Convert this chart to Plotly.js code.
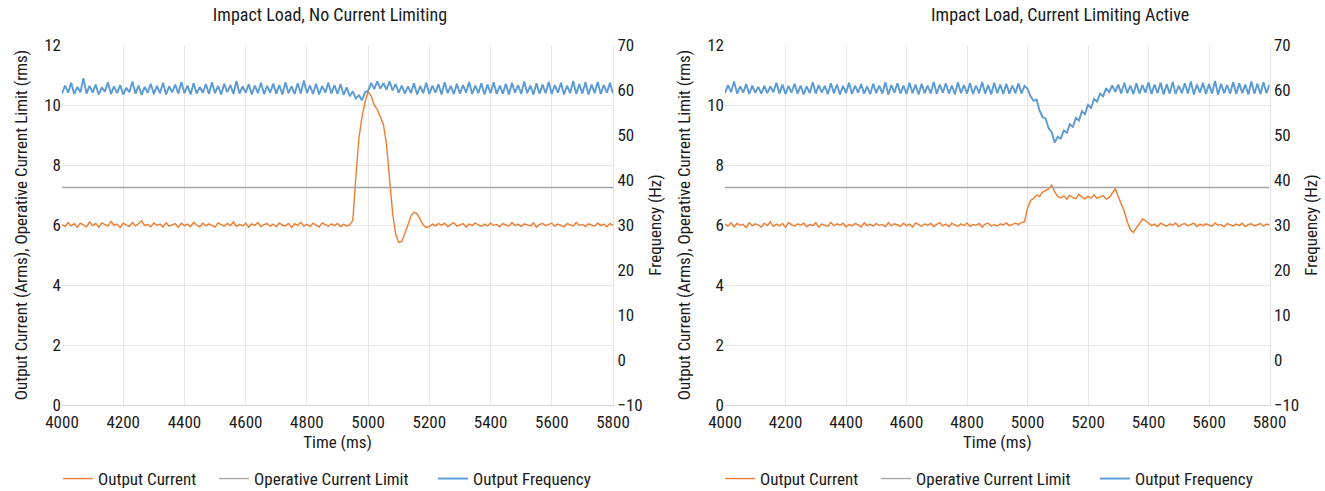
<!DOCTYPE html>
<html>
<head>
<meta charset="utf-8">
<script src="https://cdn.plot.ly/plotly-3.0.1.min.js"></script>
<style>
html,body{margin:0;padding:0;background:#fff;}
#chart{width:1325px;height:491px;}
#chart svg text{font-stretch:condensed !important;}
</style>
</head>
<body>
<div id="chart"></div>
<script>
// ---- Data (sampled every 10 ms from 4000 ms to 5800 ms) ----
const TIME_START = 4000;
const TIME_STEP = 10;
const TIME_RANGE = [4000, 5800];
const limitTimes = [4000, 5800];

const subplotTitles = ["Impact Load, No Current Limiting", "Impact Load, Current Limiting Active"];
const seriesNames = ["Output Current", "Operative Current Limit", "Output Frequency"];

// Left: Impact Load, No Current Limiting
const leftCurrent = [
  6.02,5.95,6.08,5.97,6.04,5.92,6.06,6.00,5.94,6.10,
  5.98,6.05,5.93,6.07,6.01,5.96,6.12,5.99,6.03,5.91,
  6.06,6.00,5.95,6.09,5.97,6.04,6.14,5.98,6.02,5.94,
  6.07,5.99,6.03,5.93,6.08,5.96,6.01,6.05,5.92,6.06,
  5.98,6.03,5.95,6.09,6.00,5.94,6.06,5.97,6.04,5.99,
  5.93,6.07,6.01,5.96,6.05,5.98,6.10,5.95,6.02,5.97,
  6.06,5.93,6.04,5.99,6.08,5.95,6.01,6.05,5.96,6.03,
  5.94,6.07,6.00,5.97,6.05,5.92,6.04,5.99,6.09,5.96,
  6.02,5.95,6.06,5.99,5.93,6.07,6.01,5.96,6.04,5.98,
  6.05,5.94,6.02,5.97,6.00,6.15,7.60,8.90,9.60,10.10,
  10.45,10.30,10.00,9.85,9.60,9.35,8.70,7.60,6.40,5.70,
  5.42,5.45,5.70,6.00,6.30,6.42,6.38,6.20,6.00,5.92,
  5.95,6.03,5.97,6.05,5.99,6.06,5.94,6.02,6.08,5.96,
  6.01,6.05,5.93,6.04,5.98,6.07,6.00,5.95,6.03,5.97,
  6.06,5.99,6.02,5.94,6.05,6.01,5.96,6.08,5.98,6.03,
  5.95,6.04,6.00,5.97,6.07,5.93,6.02,6.05,5.98,6.01,
  6.06,5.96,6.03,5.99,5.94,6.05,6.01,5.97,6.08,5.99,
  6.02,5.95,6.04,6.00,5.96,6.07,5.98,6.03,5.94,6.05,6.00
];
const leftLimit = [7.25, 7.25];
const leftFrequency = [
  59.2,61.0,59.4,61.6,59.1,60.7,59.5,62.6,59.2,60.9,
  59.4,61.2,59.0,60.6,59.6,61.7,59.1,60.8,59.3,61.1,
  59.0,60.5,59.5,61.9,59.2,61.0,58.9,60.7,59.4,61.4,
  59.1,60.9,59.3,61.6,59.0,60.8,59.5,61.2,59.2,61.8,
  59.3,61.0,59.0,61.5,59.2,60.7,59.4,61.3,59.1,61.7,
  59.3,60.9,59.0,61.4,59.5,61.1,59.1,62.0,59.2,60.8,
  59.4,61.3,59.0,61.0,59.3,61.6,59.1,60.9,59.4,61.4,
  59.2,61.1,59.0,61.7,59.3,60.8,59.1,61.5,59.2,62.1,
  59.3,61.0,59.1,61.4,59.0,60.9,59.4,61.6,59.2,61.1,
  59.1,61.3,58.9,60.6,58.6,59.7,58.1,58.8,57.7,59.5,
  59.8,61.6,60.2,61.9,60.3,61.5,60.1,61.9,59.9,61.3,
  59.4,61.0,59.2,60.8,59.3,61.5,59.0,60.9,59.3,61.6,
  59.1,61.0,59.4,61.3,59.0,61.7,59.3,60.9,59.1,61.4,
  59.2,61.1,59.4,61.8,59.1,61.0,59.3,61.5,59.0,61.2,
  59.3,61.7,59.1,61.0,59.2,61.4,59.0,61.6,59.4,61.1,
  59.1,61.9,59.3,61.0,59.0,61.5,59.2,61.2,59.3,61.8,
  59.1,61.1,59.4,61.6,59.0,61.0,59.3,62.0,59.1,61.3,
  59.2,61.7,59.0,61.2,59.3,61.8,59.1,61.1,59.4,61.6,59.2
];

// Right: Impact Load, Current Limiting Active
const rightCurrent = [
  6.03,5.96,6.07,5.94,6.05,5.99,6.02,5.91,6.08,5.97,
  6.04,6.00,5.93,6.06,5.98,6.11,5.95,6.03,5.97,6.05,
  5.92,6.08,6.01,5.96,6.04,5.99,6.06,5.94,6.02,5.98,
  6.07,5.93,6.03,6.00,5.95,6.09,5.97,6.04,5.99,6.06,
  5.94,6.02,5.97,6.05,6.01,5.93,6.07,5.98,6.03,5.96,
  6.05,5.99,6.02,5.94,6.08,5.97,6.04,6.00,5.95,6.06,
  5.98,6.03,5.93,6.07,6.01,5.96,6.04,5.99,6.05,5.95,
  6.02,6.08,5.97,6.03,5.94,6.06,6.00,5.96,6.04,5.98,
  6.07,5.95,6.02,5.99,6.05,5.93,6.03,6.06,5.97,6.01,
  5.96,6.04,6.00,6.07,5.98,6.03,6.06,6.02,6.08,6.10,
  6.55,6.82,6.88,7.00,6.95,7.10,7.15,7.20,7.33,7.10,
  6.95,6.90,6.97,6.86,6.99,6.91,6.88,7.02,6.93,6.87,
  6.96,6.90,7.00,6.89,6.94,6.98,6.86,6.92,7.05,7.22,
  6.95,6.70,6.45,6.10,5.85,5.75,5.90,6.05,6.20,6.15,
  6.05,5.98,6.03,5.95,6.06,6.00,5.96,6.04,5.99,6.07,
  5.94,6.02,6.05,5.97,6.01,6.06,5.95,6.03,5.98,6.04,
  6.00,5.96,6.07,5.99,6.02,5.94,6.05,6.01,5.97,6.03,
  5.98,6.06,5.95,6.02,6.04,5.97,6.01,6.05,5.96,6.03,6.00
];
const rightLimit = [7.25, 7.25];
const rightFrequency = [
  59.3,61.1,59.5,61.9,59.2,60.8,59.4,61.3,59.1,61.0,
  59.4,60.7,59.2,60.9,59.3,60.8,59.5,61.6,59.2,61.2,
  59.1,60.9,59.4,61.4,59.2,61.0,59.0,60.8,59.3,61.7,
  59.2,61.1,59.4,60.9,59.1,61.5,59.3,61.2,59.0,60.9,
  59.3,61.6,59.1,61.0,59.4,61.3,59.2,60.8,59.1,61.4,
  59.3,61.0,59.2,61.7,59.0,61.1,59.4,61.5,59.2,61.0,
  59.1,61.6,59.3,61.2,59.0,61.4,59.3,61.0,59.2,61.8,
  59.1,61.2,59.4,61.5,59.2,61.0,59.0,61.7,59.3,61.1,
  59.2,61.5,59.1,61.0,59.3,61.8,59.2,61.1,59.0,61.6,
  59.3,61.2,59.1,61.4,59.2,61.0,59.3,61.5,59.2,60.9,
  60.3,58.6,57.6,57.9,55.4,54.0,53.6,51.5,50.6,48.3,
  49.6,49.2,51.0,50.5,52.4,51.8,53.8,53.2,55.3,54.6,
  56.7,56.0,58.0,57.4,59.2,58.6,60.4,59.5,61.0,59.6,
  61.2,59.2,61.6,59.3,61.0,59.1,61.5,59.2,61.1,59.4,
  61.7,59.1,61.2,59.3,61.6,59.0,61.3,59.2,61.8,59.1,
  61.0,59.3,61.5,59.2,61.9,59.0,61.2,59.4,61.6,59.1,
  61.3,59.2,62.0,59.0,61.4,59.3,61.1,59.2,61.8,59.1,
  61.5,59.3,61.2,59.0,61.9,59.2,61.4,59.1,61.7,59.3,61.2
];

// ---- Styling ----
const COLORS = {current: "#ED7D31", limit: "#A5A5A5", freq: "#5B9BD5"};
const FONT = "Roboto, 'Open Sans', sans-serif";
const TXT = "#1a1a1a";
const GRID = "#e8e8e8";
const FS = 17;

function seriesTraces(xa, ya, ya2, cur, lim, freq, legendId) {
  return [
    {type: "scatter", mode: "lines", name: seriesNames[0], x0: TIME_START, dx: TIME_STEP, y: cur,
     xaxis: xa, yaxis: ya, line: {color: COLORS.current, width: 1.4}, legend: legendId},
    {type: "scatter", mode: "lines", name: seriesNames[1], x: limitTimes, y: lim,
     xaxis: xa, yaxis: ya, line: {color: COLORS.limit, width: 1.3}, legend: legendId},
    {type: "scatter", mode: "lines", name: seriesNames[2], x0: TIME_START, dx: TIME_STEP, y: freq,
     xaxis: xa, yaxis: ya2, line: {color: COLORS.freq, width: 1.9}, legend: legendId}
  ];
}

const data = [].concat(
  seriesTraces("x", "y", "y2", leftCurrent, leftLimit, leftFrequency, "legend"),
  seriesTraces("x2", "y3", "y4", rightCurrent, rightLimit, rightFrequency, "legend2")
);

const YDOM = [1 - 405/491, 1 - 45/491];
function xAxis(domain, anchor) {
  return {domain: domain, anchor: anchor, range: TIME_RANGE, tick0: 4000, dtick: 200,
    showgrid: true, gridcolor: GRID, gridwidth: 1, zeroline: false,
    showline: true, linecolor: "#d9d9d9", linewidth: 1, ticks: "", ticklabelstandoff: 2,
    tickfont: {family: FONT, size: FS, color: TXT},
    title: {text: "Time (ms)", font: {family: FONT, size: FS, color: TXT}, standoff: 4}};
}
function yLeft(anchor) {
  return {domain: YDOM, anchor: anchor, range: [0, 12], tick0: 0, dtick: 2,
    showgrid: true, gridcolor: GRID, gridwidth: 1, zeroline: false, showline: false, ticks: "",
    tickfont: {family: FONT, size: FS, color: TXT},
    title: {text: "Output Current (Arms), Operative Current Limit (rms)", font: {family: FONT, size: FS, color: TXT}, standoff: 9}};
}
function yRight(over, anchor) {
  return {overlaying: over, anchor: anchor, side: "right", range: [-10, 70], tick0: -10, dtick: 10,
    showgrid: false, zeroline: false, showline: true, linecolor: "#e3e3e3", ticks: "",
    tickfont: {family: FONT, size: FS, color: TXT},
    title: {text: "Frequency (Hz)", font: {family: FONT, size: FS, color: TXT}, standoff: 3}};
}

const legendStyle = {orientation: "h", xanchor: "left", y: 1 - 479/491, yanchor: "middle",
  font: {family: FONT, size: 17, color: TXT}, bgcolor: "rgba(0,0,0,0)", itemwidth: 30};

const layout = {
  width: 1325, height: 491,
  margin: {l: 0, r: 0, t: 0, b: 0, autoexpand: false},
  paper_bgcolor: "#ffffff", plot_bgcolor: "#ffffff",
  font: {family: FONT, size: FS, color: TXT},
  xaxis: xAxis([62/1325, 613/1325], "y"),
  yaxis: yLeft("x"),
  yaxis2: yRight("y", "x"),
  xaxis2: xAxis([725/1325, 1269.5/1325], "y3"),
  yaxis3: yLeft("x2"),
  yaxis4: yRight("y3", "x2"),
  legend: Object.assign({x: 58/1325}, legendStyle),
  legend2: Object.assign({x: 720/1325}, legendStyle),
  annotations: [
    {text: subplotTitles[0], xref: "paper", yref: "paper", x: 330/1325, y: 1 - 14/491,
     xanchor: "center", yanchor: "middle", showarrow: false, font: {family: FONT, size: 18, color: TXT}},
    {text: subplotTitles[1], xref: "paper", yref: "paper", x: 1060/1325, y: 1 - 14/491,
     xanchor: "center", yanchor: "middle", showarrow: false, font: {family: FONT, size: 18, color: TXT}}
  ],
  showlegend: true
};

Plotly.newPlot("chart", data, layout, {displayModeBar: false, staticPlot: true});
</script>
</body>
</html>
